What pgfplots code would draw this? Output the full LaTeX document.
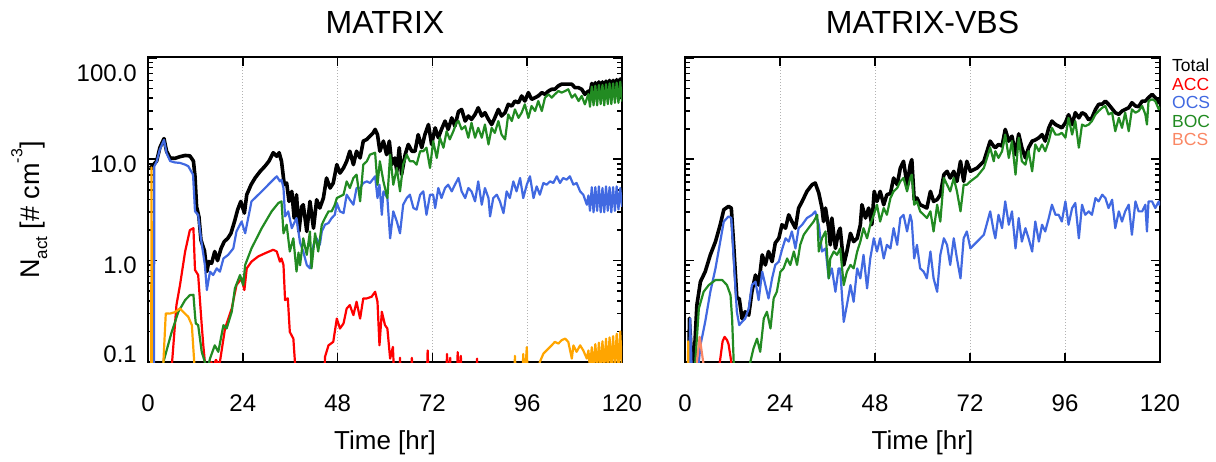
\documentclass[border=0pt]{standalone}
\usepackage{pgfplots}
\pgfplotsset{compat=1.18}
\usepackage{fontspec}
\setmainfont{Liberation Sans}
\definecolor{cacc}{RGB}{255,0,0}
\definecolor{cocs}{RGB}{65,105,225}
\definecolor{cboc}{RGB}{34,139,34}
\definecolor{cbcs}{RGB}{250,135,100}
\definecolor{corg}{RGB}{255,165,0}
\tikzset{
  blk/.style={black, line width=3.6pt},
  ln/.style={#1, line width=2.2pt},
}
\begin{document}
\begin{tikzpicture}
\useasboundingbox (0pt,0pt) rectangle (1216pt,-462pt);
% ---------------- MATRIX ----------------
\begin{axis}[at={(148pt,-362pt)},
    anchor=south west, scale only axis, width=474pt, height=305pt,
    xmin=0, xmax=120, ymode=log, ymin=0.1, ymax=102,
    xtick={0,24,48,72,96,120}, xticklabels={0,24,48,72,96,120},
    xticklabel style={font=\fontsize{24}{28}\selectfont, anchor=base, inner sep=0pt, yshift=-49.6pt},
    ytick={0.1,1,10,100},
    minor ytick={0.2,0.3,0.4,0.5,0.6,0.7,0.8,0.9,2,3,4,5,6,7,8,9,20,30,40,50,60,70,80,90},
    xmajorgrids, grid style={gray!60, line width=1pt, dash pattern=on 1pt off 2pt},
    axis line style={line width=2pt}, tick align=inside,
    major tick length=9pt, minor tick length=5pt,
    every tick/.style={black, line width=1.6pt},
    no markers, clip=true,
  yticklabel style={font=\fontsize{24}{28}\selectfont, anchor=east, inner sep=0pt, xshift=-11pt},
  yticklabels={\raisebox{0pt}[0pt][0pt]{0.1},\raisebox{-13.3pt}[0pt][0pt]{1.0},\raisebox{-12.9pt}[0pt][0pt]{10.0},\raisebox{-23.9pt}[0pt][0pt]{100.0}}]
% Total
\addplot[blk, line join=round] coordinates {(0.5,8.2)(1.0,8.5)(2.2,9.6)(3.0,13.0)(4.05,16.0)(4.7,12.0)(5.6,10.3)(6.8,10.2)(8.1,10.6)(9.4,10.9)(10.6,10.8)(11.5,9.6)(11.9,6.8)(12.3,3.4)(12.9,2.7)(13.4,1.6)(14.3,1.25)(14.9,0.78)(15.4,0.98)(16.1,0.94)(16.9,1.23)(17.6,1.0)(18.5,1.32)(19.3,1.54)(20.2,1.66)(21.0,1.86)(21.9,2.43)(22.7,3.18)(23.5,3.84)(24.4,2.94)(25.0,4.47)(26.1,5.61)(27.1,6.53)(28.4,7.6)(29.6,8.53)(30.6,9.55)(31.7,11.6)(32.6,10.7)(33.2,11.6)(33.8,9.55)(34.5,5.61)(35.1,5.83)(35.7,3.84)(36.4,4.82)(37.0,2.63)(37.6,4.47)(38.2,1.94)(38.9,3.4)(39.3,3.56)(40.2,1.94)(41.0,3.84)(41.9,2.09)(42.7,3.99)(43.5,3.30)(44.4,4.14)(45.2,6.53)(46.1,5.20)(46.9,5.83)(47.8,8.85)(48.6,7.3)(49.5,8.2)(50.3,9.55)(51.1,12.0)(52.0,8.85)(52.8,12.0)(53.7,10.3)(54.5,15.1)(55.4,15.7)(56.2,16.9)(57.0,18.2)(57.5,19.7)(58.1,17.5)(58.7,12.0)(59.6,15.1)(60.4,11.1)(61.1,15.1)(61.7,8.85)(62.5,10.3)(63.0,7.6)(63.6,13.0)(64.2,7.05)(65.1,11.1)(65.9,14.0)(66.8,12.0)(67.6,12.0)(68.4,17.5)(69.3,13.0)(70.1,17.5)(71.0,22.0)(71.8,14.0)(72.7,20.4)(73.5,16.3)(74.3,19.7)(75.2,23.8)(76.0,19.7)(76.9,25.6)(77.7,21.2)(78.6,29.5)(79.4,31.0)(80.3,23.8)(81.1,26.7)(81.9,24.7)(82.8,27.7)(83.6,32.2)(84.5,26.7)(85.3,28.8)(86.2,24.7)(87.0,22.0)(87.8,25.6)(88.7,31.0)(89.5,26.7)(90.4,28.8)(91.2,34.8)(92.1,33.5)(92.9,37.5)(93.8,36.1)(94.6,42.1)(95.4,37.5)(96.3,45.4)(97.1,39.0)(98.0,40.5)(98.8,42.1)(99.7,45.4)(100.5,43.7)(101.4,47.1)(102.2,49)(103.0,49)(103.9,53)(104.7,55)(105.6,55)(106.4,55)(107.3,55)(108.1,50.8)(109.0,50.8)(109.8,49)(110.6,43.7)(111.5,47)
(111.9,44)(112.35,56)(112.8,45)(113.25,57)(113.7,45)(114.15,58)(114.6,46)(115.05,58)(115.5,46)(115.95,59)(116.4,47)(116.85,60)(117.3,47)(117.75,60)(118.2,48)(118.65,61)(119.1,48)(119.55,62)(120.0,49)};
% ACC
\addplot[ln=cacc, line join=round] coordinates {(5.8,0.05)(6.1,0.1)(7.2,0.364)(8.1,0.574)(9.4,1.23)(10.6,2.0)(11.5,2.09)(11.9,0.809)(12.7,0.721)(13.6,0.231)(14.0,0.146)(14.4,0.1)(14.7,0.05)(15.6,0.05)(16.0,0.1)(16.5,0.09)(17.2,0.105)(17.8,0.095)(18.2,0.1)(19.5,0.214)(21.2,0.337)(22.4,0.574)(23.7,0.668)(24.4,0.513)(25.0,0.839)(26.2,0.977)(27.9,1.10)(29.6,1.18)(31.7,1.28)(32.6,1.23)(33.4,0.977)(33.8,1.05)(34.3,0.906)(34.7,0.408)(35.4,0.424)(35.9,0.198)(36.8,0.170)(37.2,0.1)(37.5,0.05)
(44.6,0.05)(44.8,0.112)(45.7,0.146)(46.9,0.158)(47.8,0.268)(48.6,0.214)(49.5,0.240)(50.3,0.337)(51.1,0.364)(52.0,0.290)(52.8,0.393)(53.7,0.268)(54.5,0.424)(55.4,0.424)(56.6,0.44)(57.5,0.493)(58.1,0.393)(58.6,0.146)(59.2,0.313)(60.0,0.231)(60.6,0.214)(61.3,0.108)(62.0,0.141)(62.5,0.05)
(63.5,0.05)(63.8,0.11)(64.1,0.05)(66.5,0.05)(66.8,0.11)(67.1,0.05)(70.5,0.05)(70.8,0.13)(71.1,0.05)(75.4,0.05)(75.7,0.12)(76.1,0.05)(76.5,0.11)(76.8,0.05)(78.1,0.05)(78.4,0.125)(78.8,0.06)(79.2,0.115)(79.5,0.05)(83.0,0.05)(83.3,0.108)(83.6,0.05)};
% OCS
\addplot[ln=cocs, line join=round] coordinates {(1.5,0.05)(1.6,8.5)(2.2,9.5)(3.0,12.5)(4.05,15.5)(4.7,11.5)(5.6,9.6)(6.8,9.3)(8.1,9.2)(9.4,8.85)(10.2,8.53)(11.4,7.05)(11.9,3.06)(12.7,2.83)(13.4,1.66)(14.4,0.906)(14.9,0.513)(15.7,0.778)(16.5,0.721)(17.4,0.839)(18.2,0.778)(19.1,1.05)(20.3,1.14)(21.6,1.32)(22.4,1.94)(23.7,2.43)(24.6,1.86)(26.2,3.84)(28.8,4.82)(31.3,6.05)(32.6,6.79)(33.4,6.05)(33.8,6.29)(34.3,5.20)(34.7,2.73)(35.5,3.06)(36.4,2.09)(37.6,2.63)(38.5,1.5)(39.3,1.23)(40.2,0.906)(41.0,0.839)(41.9,1.43)(42.7,1.66)(43.5,1.43)(44.0,1.94)(44.8,2.26)(45.7,2.35)(46.5,2.63)(47.3,2.83)(47.8,3.70)(48.6,3.06)(49.5,2.94)(50.3,4.47)(51.1,3.99)(52.0,3.56)(52.8,5.20)(53.7,5.20)(54.5,5.83)(55.4,6.05)(56.2,5.83)(57.5,6.79)(58.1,4.14)(58.6,5.61)(59.2,2.83)(59.6,4.82)(60.6,4.14)(61.3,1.66)(62.1,3.06)(63.0,2.43)(63.8,1.86)(64.6,3.56)(65.5,4.14)(66.3,4.47)(67.2,3.30)(68.0,3.18)(68.9,4.47)(69.7,4.82)(70.5,2.83)(71.4,4.47)(72.2,4.47)(72.7,3.30)(73.5,5.20)(74.3,4.14)(75.2,5.20)(76.0,5.61)(76.9,4.82)(77.7,5.61)(78.6,6.53)(79.4,4.82)(80.3,4.14)(81.1,5.20)(81.9,4.82)(82.8,3.84)(83.6,6.05)(84.5,3.56)(85.3,5.20)(86.2,4.14)(86.6,2.73)(87.4,4.14)(88.3,4.47)(89.1,3.84)(90.0,2.94)(90.8,4.82)(91.6,4.14)(92.5,6.05)(93.3,4.82)(94.2,6.53)(95.0,4.14)(95.9,5.61)(96.7,6.79)(97.6,4.14)(98.4,5.40)(99.2,4.47)(100.1,5.83)(100.9,5.61)(101.8,6.05)(102.6,5.83)(103.5,6.79)(104.3,5.83)(105.1,6.53)(106.0,6.29)(106.8,6.79)(107.7,5.61)(108.5,5.83)(109.4,4.82)(110.2,4.47)(111.1,3.56)(111.5,4.4)
(111.9,3.1)(112.35,5.3)(112.8,3.0)(113.25,5.3)(113.7,3.1)(114.15,5.4)(114.6,3.0)(115.05,5.2)(115.5,3.0)(115.95,5.4)(116.4,3.1)(116.85,5.3)(117.3,3.0)(117.75,5.3)(118.2,3.1)(118.65,5.4)(119.1,3.2)(119.55,5.2)(120.0,3.4)};
% BOC
\addplot[ln=cboc, line join=round] coordinates {(3.5,0.05)(3.9,0.1)(6.0,0.198)(7.7,0.313)(9.4,0.408)(10.6,0.457)(11.5,0.46)(11.9,0.29)(12.1,0.24)(12.7,0.231)(13.6,0.126)(14.4,0.1)(14.9,0.08)(15.7,0.108)(16.9,0.146)(17.8,0.126)(19.1,0.231)(19.9,0.214)(21.2,0.313)(22.0,0.532)(23.3,0.721)(24.1,0.574)(24.6,0.906)(26.2,1.32)(28.8,2.09)(31.3,3.06)(33.0,3.70)(33.8,3.84)(34.3,1.86)(35.1,2.26)(35.9,1.23)(36.8,1.66)(37.6,0.78)(38.1,1.2)(38.5,0.9)(39.3,1.66)(40.2,1.14)(41.0,1.94)(41.4,0.84)(42.3,1.86)(43.1,1.23)(44.0,2.26)(44.8,2.63)(45.7,3.06)(46.5,3.06)(47.3,3.56)(47.8,4.14)(48.6,4.30)(49.5,4.47)(50.3,6.05)(51.1,5.20)(52.0,6.53)(52.8,7.05)(53.7,3.84)(54.5,8.85)(55.4,9.55)(56.2,11.1)(57.5,11.6)(58.1,5.61)(58.7,9.55)(59.6,6.05)(60.6,4.14)(61.3,11.1)(62.1,5.61)(63.0,8.2)(63.8,4.82)(64.6,8.85)(65.5,11.1)(66.3,9.55)(67.2,9.55)(68.0,8.85)(68.9,12.0)(69.7,12.0)(70.5,13.0)(71.4,8.2)(72.2,15.1)(73.1,10.3)(73.9,16.3)(74.8,13.0)(75.6,18.9)(76.4,15.7)(77.3,18.9)(78.1,22.9)(78.6,23.8)(79.4,19.7)(80.3,21.2)(81.1,16.3)(81.9,22.9)(82.8,16.3)(83.6,20.4)(84.5,16.3)(85.3,22.0)(86.2,14.0)(87.0,20.4)(87.8,18.2)(88.7,23.8)(89.5,17.5)(90.4,15.7)(91.2,27.7)(92.1,23.8)(92.9,31.0)(93.8,25.6)(94.6,28.8)(95.4,34.8)(96.3,25.6)(97.1,33.5)(98.0,29.9)(98.8,37.5)(99.7,29.9)(100.5,40.5)(101.4,43.7)(102.2,40.5)(103.0,43.7)(103.9,47.1)(104.7,45.4)(105.6,47.1)(106.4,49)(107.3,40.5)(108.1,43.7)(109.0,37.5)(109.8,42.1)(110.6,34.8)(111.5,44)
(111.9,33)(112.35,52)(112.8,34)(113.25,53)(113.7,34)(114.15,54)(114.6,35)(115.05,54)(115.5,34)(115.95,55)(116.4,35)(116.85,56)(117.3,35)(117.75,56)(118.2,36)(118.65,57)(119.1,36)(119.55,58)(120.0,37)};
% orange
\addplot[ln=corg, line join=round] coordinates {(0.8,0.05)(0.9,8.3)(1.0,0.05)(3.7,0.05)(3.9,0.1)(4.5,0.301)(5.5,0.30)(6.8,0.31)(8.1,0.337)(8.9,0.313)(10.2,0.279)(11.1,0.231)(11.7,0.1)(11.8,0.05)
(92.6,0.05)(92.9,0.115)(93.2,0.05)(94.7,0.05)(95.0,0.12)(95.3,0.06)(95.9,0.14)(96.2,0.05)(98.9,0.05)(99.2,0.1)(100.1,0.121)(101.4,0.136)(102.2,0.146)(103.0,0.158)(103.9,0.152)(104.7,0.164)(105.6,0.170)(106.4,0.158)(107.3,0.108)(107.7,0.146)(108.5,0.126)(109.4,0.146)(110.2,0.13)(111.1,0.108)(111.5,0.13)
(111.9,0.085)(112.35,0.14)(112.8,0.085)(113.25,0.15)(113.7,0.085)(114.15,0.155)(114.6,0.085)(115.05,0.16)(115.5,0.085)(115.95,0.17)(116.4,0.085)(116.85,0.175)(117.3,0.085)(117.75,0.18)(118.2,0.085)(118.65,0.19)(119.1,0.085)(119.55,0.2)(120.0,0.085)};
\end{axis}
% ---------------- MATRIX-VBS ----------------
\begin{axis}[at={(685pt,-362pt)},
    anchor=south west, scale only axis, width=475pt, height=305pt,
    xmin=0, xmax=120, ymode=log, ymin=0.1, ymax=102,
    xtick={0,24,48,72,96,120}, xticklabels={0,24,48,72,96,120},
    xticklabel style={font=\fontsize{24}{28}\selectfont, anchor=base, inner sep=0pt, yshift=-49.6pt},
    ytick={0.1,1,10,100}, yticklabels={},
    minor ytick={0.2,0.3,0.4,0.5,0.6,0.7,0.8,0.9,2,3,4,5,6,7,8,9,20,30,40,50,60,70,80,90},
    xmajorgrids, grid style={gray!60, line width=1pt, dash pattern=on 1pt off 2pt},
    axis line style={line width=2pt}, tick align=inside,
    major tick length=9pt, minor tick length=5pt,
    every tick/.style={black, line width=1.6pt},
    no markers, clip=true]
% Total
\addplot[blk, line join=round] coordinates {(1.0,0.05)(1.1,0.27)(1.6,0.12)(2.2,0.09)(3.0,0.364)(3.9,0.62)(5.1,0.778)(6.4,1.14)(7.7,1.54)(8.9,2.26)(9.8,3.18)(11.0,3.43)(11.7,3.30)(12.3,1.43)(13.1,0.424)(13.7,0.424)(14.4,0.268)(15.2,0.313)(16.1,0.290)(16.9,0.493)(17.8,0.721)(18.6,0.574)(19.5,1.14)(20.3,0.906)(21.1,1.23)(22.0,0.977)(22.8,1.49)(23.7,1.66)(24.5,2.26)(25.4,2.09)(26.2,2.83)(27.0,2.43)(27.9,2.09)(28.7,3.30)(29.6,3.84)(30.8,4.82)(32.1,5.61)(32.9,5.83)(33.8,4.64)(34.6,3.30)(35.0,2.43)(35.5,3.30)(36.3,2.09)(36.7,1.43)(37.1,2.63)(38.0,1.32)(38.8,1.94)(39.2,2.09)(40.1,0.906)(40.9,1.23)(41.8,1.86)(42.6,1.54)(43.5,1.66)(44.3,2.26)(44.7,3.56)(45.6,2.63)(46.4,3.30)(47.2,2.26)(47.8,4.82)(48.5,3.84)(49.3,4.82)(50.2,3.56)(51.0,4.47)(51.9,4.6)(52.7,6.53)(53.6,5.61)(54.4,8.2)(55.2,9.55)(56.1,5.61)(56.9,8.85)(57.3,9.93)(57.9,4.0)(58.6,4.14)(59.4,3.56)(60.3,3.43)(61.1,3.30)(62.0,4.82)(62.8,3.84)(63.7,4.0)(64.5,4.47)(65.4,7.05)(66.2,7.6)(67.0,6.53)(67.9,7.6)(68.7,6.05)(69.6,9.55)(70.4,6.05)(71.2,9.55)(72.1,7.6)(73.8,8.2)(75.5,9.55)(77.1,15.1)(78.0,13.4)(78.4,13.0)(79.2,14.0)(80.1,13.5)(80.9,19.7)(81.8,15.1)(82.6,16.9)(83.5,11.1)(84.3,17.8)(85.1,13.0)(86.0,10.3)(86.8,13.0)(87.7,15.1)(88.5,15.5)(89.4,16.3)(90.2,17.5)(91.0,15.1)(91.9,20.4)(92.7,23.8)(93.6,22.0)(94.4,21.2)(95.2,20.4)(96.1,22.9)(96.9,27.5)(97.8,22.0)(98.6,28.8)(99.5,25.6)(100.3,28.8)(101.1,27.7)(102.0,24.5)(102.8,25.6)(103.7,31.0)(104.5,34.8)(105.4,35.0)(106.2,37.5)(107.0,34.8)(107.9,31.5)(108.7,28.8)(109.6,27.7)(110.4,29.9)(111.2,31.0)(112.1,32.2)(112.9,36.1)(113.8,33.5)(114.6,33.0)(115.5,37.5)(116.3,37.5)(117.1,40.5)(118.0,43.7)(118.8,40.5)(119.7,36.1)(120,38)};
% ACC
\addplot[ln=cacc, line join=round] coordinates {(8.7,0.05)(8.8,0.1)(9.5,0.16)(10.0,0.177)(10.6,0.165)(11.0,0.15)(11.7,0.1)(11.8,0.05)};
% OCS
\addplot[ln=cocs, line join=round] coordinates {(1.0,0.05)(1.3,0.27)(1.7,0.08)(3.0,0.08)(3.5,0.1)(3.9,0.146)(5.1,0.249)(6.4,0.493)(7.7,0.839)(8.9,1.54)(9.8,2.43)(11.0,2.73)(11.7,2.63)(12.3,1.05)(13.1,0.313)(13.7,0.231)(14.4,0.249)(15.2,0.268)(16.1,0.337)(16.9,0.574)(17.8,0.620)(18.6,0.408)(19.5,0.778)(20.3,0.574)(21.1,0.424)(22.0,0.668)(22.8,0.906)(23.7,0.977)(24.5,1.28)(25.4,1.66)(26.2,1.54)(27.0,1.94)(27.9,1.32)(28.7,2.09)(29.6,2.26)(30.8,2.63)(32.1,2.83)(32.9,3.06)(33.8,2.26)(34.6,1.23)(35.5,1.32)(36.3,0.668)(37.1,0.839)(38.0,0.493)(38.8,0.839)(39.2,0.839)(40.1,0.249)(40.9,0.364)(41.8,0.574)(42.6,0.393)(43.5,0.839)(44.3,0.668)(45.1,1.14)(46.0,0.532)(46.8,1.05)(47.7,1.66)(48.5,1.23)(49.3,1.66)(50.2,1.05)(51.0,1.43)(51.9,1.32)(52.7,2.09)(53.6,1.43)(54.4,2.63)(55.2,2.83)(56.1,1.94)(56.9,2.83)(57.3,2.43)(57.9,1.05)(58.6,1.43)(59.4,0.839)(60.3,0.778)(61.1,0.668)(62.0,1.23)(62.8,0.668)(63.7,0.493)(64.5,1.14)(65.4,1.66)(66.2,1.43)(67.0,0.906)(67.9,1.66)(68.7,1.05)(69.6,0.668)(70.4,1.66)(71.2,1.94)(72.1,1.32)(73.8,1.54)(75.5,1.80)(77.1,3.06)(78.0,1.94)(78.4,1.66)(79.2,2.83)(80.1,2.09)(80.9,3.84)(81.8,2.26)(82.6,3.06)(83.5,1.32)(84.3,2.63)(85.1,1.54)(86.0,2.09)(86.8,1.66)(87.7,1.23)(88.5,2.43)(89.4,1.54)(90.2,2.26)(91.0,1.94)(91.9,2.63)(92.7,3.56)(93.6,2.83)(94.4,2.83)(95.2,2.43)(96.1,3.84)(96.9,2.26)(97.8,3.30)(98.6,3.70)(99.5,1.66)(100.3,3.56)(101.1,2.83)(102.0,3.06)(102.8,2.83)(103.7,4.14)(104.5,3.84)(105.4,4.47)(106.2,4.14)(107.0,3.30)(107.9,3.99)(108.7,2.09)(109.6,3.06)(110.4,2.43)(111.2,3.06)(112.1,3.56)(112.9,1.80)(113.8,3.84)(114.6,3.06)(115.5,3.06)(116.3,3.56)(116.7,1.94)(117.1,3.84)(118.0,3.84)(118.8,3.30)(119.7,3.84)(120,3.5)};
% BOC
\addplot[ln=cboc, line join=round] coordinates {(2.2,0.05)(2.6,0.1)(3.5,0.337)(4.7,0.493)(6.0,0.574)(7.7,0.644)(9.4,0.644)(10.6,0.574)(11.5,0.457)(11.9,0.268)(12.3,0.1)(12.5,0.05)(16.3,0.05)(16.5,0.1)(17.3,0.136)(18.2,0.170)(19.0,0.126)(19.9,0.268)(20.7,0.313)(21.6,0.214)(22.4,0.424)(23.2,0.493)(24.1,0.778)(24.9,0.839)(25.8,1.05)(26.6,0.906)(27.5,1.23)(28.3,0.906)(29.1,1.43)(30.0,1.80)(31.2,2.09)(32.5,2.43)(33.4,2.83)(33.8,1.23)(34.6,1.66)(35.5,1.94)(36.3,0.668)(36.7,1.05)(37.6,1.23)(38.4,1.14)(39.2,1.32)(40.1,0.574)(40.9,0.778)(41.8,0.906)(42.6,0.839)(43.5,1.23)(44.3,1.54)(45.1,2.09)(46.0,1.66)(46.8,2.26)(47.7,2.83)(48.5,3.56)(49.3,2.43)(50.2,3.30)(51.0,2.83)(51.9,4.14)(52.7,4.82)(53.6,5.20)(54.4,6.05)(55.2,6.53)(56.1,4.82)(56.9,6.53)(57.3,7.05)(57.9,3.56)(58.6,3.84)(59.4,3.06)(60.3,2.83)(61.1,2.63)(62.0,3.06)(62.8,1.94)(63.7,3.56)(64.5,2.43)(65.4,6.53)(66.2,5.61)(67.0,4.82)(67.9,6.53)(68.7,4.82)(69.6,3.06)(70.4,5.61)(71.2,5.61)(72.1,6.05)(73.8,6.79)(75.5,8.2)(77.1,13.0)(78.0,9.55)(78.4,12.0)(79.2,10.3)(80.1,12.0)(80.9,17.5)(81.8,10.3)(82.6,15.1)(83.5,7.05)(84.3,16.3)(85.1,9.55)(86.0,8.85)(86.8,12.0)(87.7,7.6)(88.5,14.0)(89.4,12.0)(90.2,14.0)(91.0,12.0)(91.9,15.1)(92.7,20.4)(93.6,17.5)(94.4,17.5)(95.2,18.2)(96.1,16.3)(96.9,25.6)(97.8,17.5)(98.6,23.8)(99.5,13.0)(100.3,22.0)(101.1,21.2)(102.0,22.0)(102.8,23.8)(103.7,27.7)(104.5,29.9)(105.4,32.2)(106.2,33.5)(107.0,27.7)(107.9,28.8)(108.7,18.9)(109.6,25.6)(110.4,20.4)(111.2,28.8)(112.1,18.9)(112.9,31.0)(113.8,28.8)(114.6,29.9)(115.5,33.5)(116.3,27.7)(116.7,22.0)(117.1,37.5)(118.0,39.0)(118.8,37.5)(119.7,31.0)(120,33)};
% orange
\addplot[ln=corg, line join=round] coordinates {(0.7,0.05)(0.8,0.16)(0.9,0.05)};
% BCS
\addplot[ln=cbcs, line join=round] coordinates {(2.9,0.05)(3.0,0.1)(3.7,0.177)(4.3,0.12)(4.6,0.1)(4.7,0.05)};
\end{axis}
% titles, labels, legend
\node[font=\fontsize{32}{36}\selectfont, anchor=base] at (385pt,-33.5pt) {MATRIX};
\node[font=\fontsize{32}{36}\selectfont, anchor=base] at (922.5pt,-33.5pt) {MATRIX-VBS};
\node[font=\fontsize{26}{30}\selectfont, anchor=base] at (385pt,-449pt) {Time [hr]};
\node[font=\fontsize{26}{30}\selectfont, anchor=base] at (922.5pt,-449pt) {Time [hr]};
\node[font=\fontsize{27}{30}\selectfont, anchor=base, rotate=90, inner sep=0pt] at (39pt,-210pt) {N\raisebox{-0.3em}{\fontsize{17}{18}\selectfont act} [\# cm\raisebox{0.62em}{\fontsize{16}{18}\selectfont -3}]};
\begin{scope}[every node/.style={font=\fontsize{17.5}{20}\selectfont, anchor=base west, inner sep=0pt}]
\node[text=black] at (1172pt,-72pt) {Total};
\node[text=cacc] at (1172pt,-90.5pt) {ACC};
\node[text=cocs] at (1172pt,-109pt) {OCS};
\node[text=cboc] at (1172pt,-127.5pt) {BOC};
\node[text=cbcs] at (1172pt,-146pt) {BCS};
\end{scope}
\end{tikzpicture}
\end{document}
